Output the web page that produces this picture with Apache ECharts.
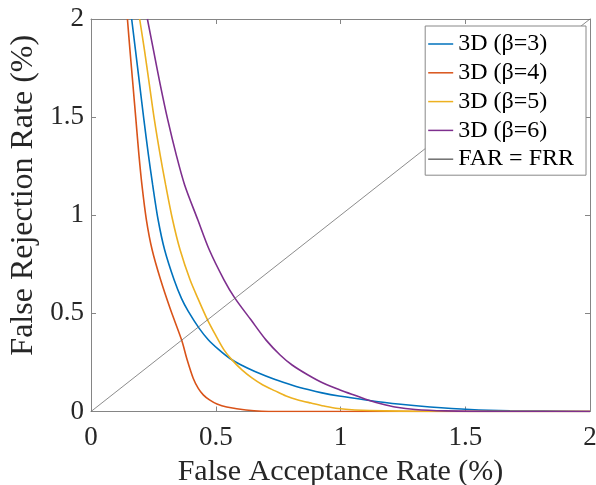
<!DOCTYPE html>
<html>
<head>
<meta charset="utf-8">
<script src="https://cdn.jsdelivr.net/npm/echarts@6/dist/echarts.min.js"></script>
<style>
html, body { margin: 0; padding: 0; background: #fff; }
#main { width: 596px; height: 485px; }
</style>
</head>
<body>
<div id="main"></div>
<script>
// values
var seriesNames = ['3D (β=3)', '3D (β=4)', '3D (β=5)', '3D (β=6)', 'FAR = FRR'];
var lineColors = ['#0072BD', '#D95319', '#EDB120', '#7E2F8E', '#6e6e6e'];
var tickLabels = ['0', '0.5', '1', '1.5', '2'];

var beta3X = [0.163, 0.178, 0.195, 0.212, 0.230, 0.247, 0.269, 0.295, 0.333, 0.363, 0.390, 0.433, 0.470, 0.510, 0.557, 0.600, 0.657, 0.738, 0.810, 0.870, 0.926, 0.994, 1.102, 1.231, 1.359, 1.519, 1.679, 2];
var beta3Y = [2.0, 1.844, 1.666, 1.487, 1.309, 1.156, 0.977, 0.824, 0.671, 0.575, 0.510, 0.425, 0.366, 0.318, 0.270, 0.238, 0.204, 0.163, 0.133, 0.112, 0.095, 0.079, 0.059, 0.038, 0.023, 0.010, 0.004, 0];

var beta4X = [0.146, 0.156, 0.168, 0.180, 0.192, 0.204, 0.222, 0.245, 0.279, 0.319, 0.363, 0.385, 0.410, 0.430, 0.450, 0.475, 0.505, 0.544, 0.621, 0.737, 1.0, 1.5, 2];
var beta4Y = [2.0, 1.844, 1.666, 1.487, 1.309, 1.156, 0.977, 0.824, 0.671, 0.518, 0.365, 0.265, 0.168, 0.118, 0.085, 0.059, 0.038, 0.023, 0.008, 0, 0, 0, 0];

var beta5X = [0.195, 0.214, 0.234, 0.254, 0.277, 0.299, 0.327, 0.357, 0.397, 0.431, 0.467, 0.499, 0.533, 0.565, 0.605, 0.645, 0.689, 0.738, 0.782, 0.830, 0.882, 0.934, 0.990, 1.058, 1.178, 1.399, 2];
var beta5Y = [2.0, 1.844, 1.666, 1.487, 1.309, 1.156, 0.977, 0.824, 0.671, 0.569, 0.467, 0.390, 0.314, 0.263, 0.212, 0.171, 0.135, 0.105, 0.079, 0.059, 0.043, 0.028, 0.015, 0.008, 0.003, 0, 0];

var beta6X = [0.226, 0.250, 0.2775, 0.3075, 0.3415, 0.375, 0.428, 0.474, 0.533, 0.576, 0.641, 0.701, 0.758, 0.806, 0.870, 0.930, 0.998, 1.066, 1.110, 1.166, 1.218, 1.299, 1.419, 1.639, 2];
var beta6Y = [2.0, 1.844, 1.666, 1.487, 1.309, 1.156, 0.977, 0.824, 0.671, 0.579, 0.467, 0.365, 0.288, 0.237, 0.186, 0.145, 0.110, 0.079, 0.059, 0.038, 0.023, 0.010, 0.003, 0, 0];

var diagX = [0, 2];
var diagY = [0, 2];

function pairs(xs, ys) {
	var out = [];
	for (var i = 0; i < xs.length; i++) {
		out.push([xs[i], ys[i]]);
	}
	return out;
}

var serifFamily = 'Liberation Serif';
var axisGray = '#858585';
var labelColor = '#262626';

function curve(i, xs, ys, width, smooth) {
	return {
		name : seriesNames[i],
		type : 'line',
		data : pairs(xs, ys),
		showSymbol : false,
		symbol : 'none',
		smooth : smooth,
		color : lineColors[i],
		lineStyle : { color : lineColors[i], width : width }
	};
}

var myChart = echarts.init(document.getElementById('main'));

var tickAxis = {
	type : 'value',
	min : 0,
	max : 2,
	interval : 0.5,
	splitLine : { show : false },
	axisLine : { onZero : false, lineStyle : { color : axisGray, width : 1 } },
	axisTick : { inside : true, length : 5, lineStyle : { color : axisGray } }
};

var option = {
	animationDuration : 300,
	textStyle : { fontFamily : serifFamily },
	grid : { left : 91, right : 6, top : 19, bottom : 73.5, containLabel : false, outerBoundsMode : 'none' },
	legend : {
		orient : 'vertical',
		right : 10,
		top : 26,
		padding : [ 6, 12, 4, 3 ],
		itemGap : 4.8,
		itemWidth : 25,
		itemHeight : 1.5,
		icon : 'rect',
		backgroundColor : '#fff',
		borderColor : '#888',
		borderWidth : 1,
		borderRadius : 0,
		textStyle : { fontFamily : serifFamily, fontSize : 24, color : '#000' },
		data : seriesNames
	},
	xAxis : [
		Object.assign({}, tickAxis, {
			position : 'bottom',
			name : 'False Acceptance Rate (%)',
			nameLocation : 'middle',
			nameGap : 46,
			nameTextStyle : { fontFamily : serifFamily, fontSize : 30, color : labelColor },
			axisLabel : {
				fontFamily : serifFamily, fontSize : 27, color : labelColor, margin : 13,
				formatter : function(v) { return tickLabels[Math.round(v * 2)]; }
			}
		}),
		Object.assign({}, tickAxis, { position : 'top', axisLabel : { show : false } })
	],
	yAxis : [
		Object.assign({}, tickAxis, {
			position : 'left',
			name : 'False Rejection Rate (%)',
			nameLocation : 'middle',
			nameGap : 38,
			nameTextStyle : { fontFamily : serifFamily, fontSize : 32, color : labelColor, padding : [ 0, 0, 0, 40 ] },
			axisLabel : {
				fontFamily : serifFamily, fontSize : 27, color : labelColor, margin : 7,
				formatter : function(v) { return tickLabels[Math.round(v * 2)]; }
			}
		}),
		Object.assign({}, tickAxis, { position : 'right', axisLabel : { show : false } })
	],
	series : [
		curve(0, beta3X, beta3Y, 1.6, 0.3),
		curve(1, beta4X, beta4Y, 1.6, 0.3),
		curve(2, beta5X, beta5Y, 1.6, 0.3),
		curve(3, beta6X, beta6Y, 1.6, 0.3),
		curve(4, diagX, diagY, 0.8, false)
	]
};

myChart.setOption(option);

// redraw once the serif face is ready so the canvas text picks it up
if (document.fonts && document.fonts.load) {
	document.fonts.load('27px "Liberation Serif"').then(function() {
		myChart.setOption(option);
		myChart.resize();
	});
}
</script>
</body>
</html>
